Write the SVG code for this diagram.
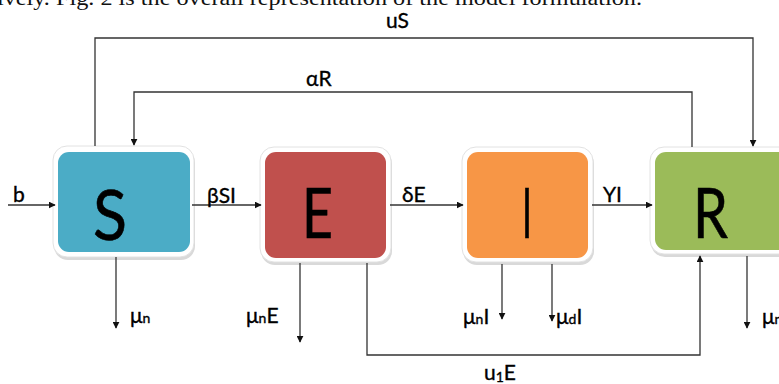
<svg xmlns="http://www.w3.org/2000/svg" width="779" height="384" viewBox="0 0 779 384">
<style>
.cap{font-family:"Liberation Serif","Times New Roman",serif;font-size:20px;fill:#111}
.lbl{font-family:Lato,"Open Sans","Noto Sans",sans-serif;font-size:21px;fill:#000;stroke:#000;stroke-width:0.35}
.sub{font-size:14px}
.big{font-family:Lato,"Open Sans","Noto Sans",sans-serif;font-size:70px;fill:#000;stroke:#000;stroke-width:0.6}
.ln{fill:none;stroke:#333;stroke-width:1.3}
.shadow{fill:#d9d9d9}
.rim{fill:#fff;stroke:#e2e2e2;stroke-width:1}
</style>
<defs>
<marker id="ah" viewBox="0 0 10 10" refX="9" refY="5" markerWidth="7" markerHeight="7" markerUnits="userSpaceOnUse" orient="auto">
<path d="M0,0 L10,5 L0,10 z" fill="#111"/>
</marker>
</defs>
<rect width="779" height="384" fill="#fff"/>
<text class="cap" x="-3" y="5" textLength="645" lengthAdjust="spacingAndGlyphs">ively. Fig. 2 is the overall representation of the model formulation.</text>

<g id="node-S">
<rect class="shadow" x="54" y="149" width="141" height="111" rx="14"/>
<rect class="rim" x="53" y="146" width="141" height="111" rx="14"/>
<rect x="58" y="152" width="132" height="100" rx="11" fill="#4BACC6"/>
<text class="big" x="93" y="240" textLength="34" lengthAdjust="spacingAndGlyphs">S</text>
</g>
<g id="node-E">
<rect class="shadow" x="261" y="150" width="131" height="115" rx="14"/>
<rect class="rim" x="260" y="147" width="131" height="115" rx="14"/>
<rect x="265" y="152" width="121" height="106" rx="11" fill="#C0504D"/>
<text class="big" x="302" y="238" textLength="31" lengthAdjust="spacingAndGlyphs">E</text>
</g>
<g id="node-I">
<rect class="shadow" x="463" y="150" width="131" height="115" rx="14"/>
<rect class="rim" x="462" y="147" width="131" height="115" rx="14"/>
<rect x="467" y="152" width="121" height="106" rx="11" fill="#F79646"/>
<text class="big" x="522" y="238" textLength="10" lengthAdjust="spacingAndGlyphs">I</text>
</g>
<g id="node-R">
<rect class="shadow" x="651" y="150" width="145" height="107" rx="14"/>
<rect class="rim" x="650" y="147" width="145" height="107" rx="14"/>
<rect x="655" y="152" width="135" height="98" rx="11" fill="#9BBB59"/>
<text class="big" x="693" y="238" textLength="35" lengthAdjust="spacingAndGlyphs">R</text>
</g>

<g id="connectors">
<path class="ln" d="M95,146 V38 H753 V146" marker-end="url(#ah)"/>
<path class="ln" d="M692,147 V92 H134 V145" marker-end="url(#ah)"/>
<path class="ln" d="M8,205 H55" marker-end="url(#ah)"/>
<path class="ln" d="M192,205 H261" marker-end="url(#ah)"/>
<path class="ln" d="M390,205 H463" marker-end="url(#ah)"/>
<path class="ln" d="M592,205 H652" marker-end="url(#ah)"/>
<path class="ln" d="M116,257 V328" marker-end="url(#ah)"/>
<path class="ln" d="M300,263 V342" marker-end="url(#ah)"/>
<path class="ln" d="M367,263 V355 H700 V256" marker-end="url(#ah)"/>
<path class="ln" d="M502,264 V319" marker-end="url(#ah)"/>
<path class="ln" d="M552,264 V321" marker-end="url(#ah)"/>
<path class="ln" d="M747,256 V328" marker-end="url(#ah)"/>
</g>

<g id="labels">
<text class="lbl" x="386" y="28">uS</text>
<text class="lbl" x="306" y="86">αR</text>
<text class="lbl" x="13" y="202">b</text>
<text class="lbl" x="207" y="203">βSI</text>
<text class="lbl" x="402" y="202">δE</text>
<text class="lbl" x="603" y="202">ΥI</text>
<text class="lbl" x="130" y="323">μ<tspan class="sub">n</tspan></text>
<text class="lbl" x="246" y="323">μ<tspan class="sub">n</tspan>E</text>
<text class="lbl" x="463" y="324">μ<tspan class="sub">n</tspan>I</text>
<text class="lbl" x="556" y="324">μ<tspan class="sub">d</tspan>I</text>
<text class="lbl" x="762" y="324">μ<tspan class="sub">n</tspan></text>
<text class="lbl" x="484" y="380">u<tspan class="sub" dy="2">1</tspan><tspan dy="-2">E</tspan></text>
</g>
</svg>
